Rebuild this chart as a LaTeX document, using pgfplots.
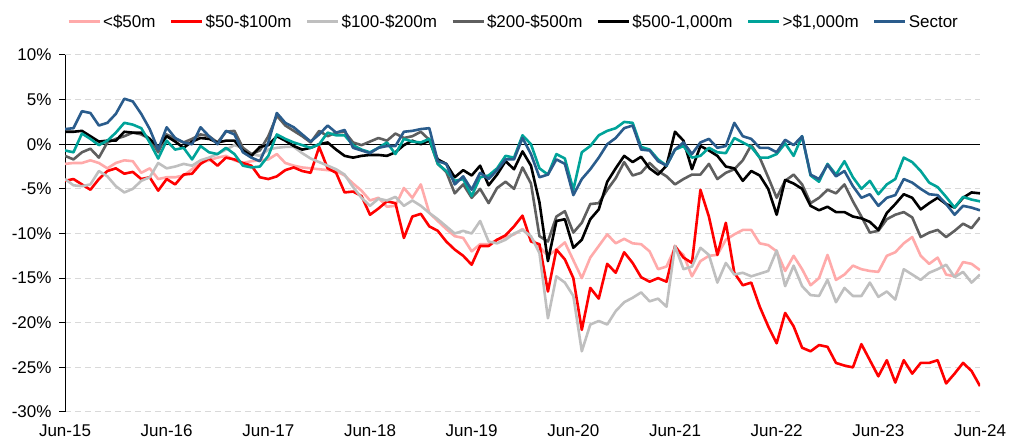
\documentclass[border=0pt]{standalone}
\usepackage{fontspec}
\setmainfont{Liberation Sans}
\usepackage{pgfplots}
\usepackage{pgfplotstable}
\pgfplotsset{compat=1.18}
\definecolor{cpink}{RGB}{255,170,170}
\definecolor{cred}{RGB}{255,0,0}
\definecolor{clgray}{RGB}{191,191,191}
\definecolor{cdgray}{RGB}{95,95,95}
\definecolor{cteal}{RGB}{0,163,153}
\definecolor{csector}{RGB}{42,92,140}
\definecolor{gridgray}{RGB}{217,217,217}

% months since Jun-15; columns: <$50m, $50-100m, $100-200m, $200-500m, $500-1,000m, >$1,000m, Sector
\pgfplotstableread{
m   lt50   r50    r100   r200   r500   gt1000 sector
0   -2.2   -4.1   -3.9   -1.3   1.4    -0.7   1.7
1   -2.1   -3.9   -4.6   -1.7   1.4    -0.9   1.8
2   -2.1   -4.5   -4.7   -0.9   1.5    1.2    3.7
3   -1.8   -5.1   -4.5   -0.5   0.9    0.6    3.5
4   -2.1   -3.9   -3.0   -1.5   0.3    -0.1   2.1
5   -2.7   -3.0   -3.6   0.2    0.4    0.4    2.4
6   -2.1   -2.7   -4.7   0.6    0.4    1.3    3.4
7   -1.8   -3.3   -5.4   0.9    1.4    2.4    5.1
8   -1.9   -3.1   -5.0   1.3    1.3    2.2    4.8
9   -3.2   -3.9   -4.1   1.1    1.3    1.8    3.4
10  -2.7   -3.7   -3.7   0.6    0.6    0.2    1.7
11  -3.9   -5.2   -2.1   -0.9   -0.3   -1.6   -0.6
12  -3.7   -3.9   -2.7   1.1    0.9    0.4    1.9
13  -3.7   -4.5   -2.5   0.6    0.3    -0.6   0.7
14  -3.5   -3.4   -2.2   0.2    -0.4   -0.4   0.2
15  -2.8   -3.3   -2.4   0.6    0.3    -1.7   0.0
16  -2.1   -2.2   -1.8   1.1    0.7    -0.2   1.9
17  -1.8   -1.6   -1.5   0.9    0.6    -0.9   0.9
18  -1.5   -2.4   -1.1   0.2    0.2    -1.1   0.0
19  -1.3   -1.5   -0.6   1.4    0.4    -0.4   1.5
20  -1.8   -1.7   -0.1   1.5    0.4    -1.1   1.1
21  -2.1   -2.1   -0.4   -0.4   -0.7   -2.4   -0.9
22  -1.9   -2.4   -1.1   -1.1   -1.3   -2.6   -1.5
23  -1.8   -3.7   -1.3   -0.7   -0.3   -2.5   -1.9
24  -1.7   -3.9   -0.6   0.9    -0.1   -1.3   0.2
25  -1.1   -3.6   -0.4   3.2    0.9    1.1    3.5
26  -2.1   -2.9   -0.3   2.1    0.4    0.6    2.4
27  -2.4   -2.6   -0.3   1.5    -0.2   0.2    1.9
28  -2.6   -3.0   -1.0   0.9    -0.6   -0.1   1.1
29  -2.7   -3.2   -1.6   0.2    -0.4   -0.4   0.3
30  -2.8   -0.3   -2.0   1.5    0.0    0.0    1.1
31  -2.9   -2.7   -2.4   0.9    0.2    1.3    2.1
32  -3.0   -3.2   -2.8   1.3    -0.6   1.0    1.3
33  -3.5   -5.4   -3.4   1.4    -1.3   1.0    1.6
34  -4.4   -5.3   -4.8   0.2    -1.5   -0.1   -0.4
35  -5.2   -5.8   -6.0   -0.1   -1.3   -0.6   -0.7
36  -6.3   -7.9   -6.9   0.3    -1.2   -0.9   -1.0
37  -6.0   -7.2   -6.1   0.7    -1.2   -0.4   -0.4
38  -7.0   -6.4   -6.3   0.4    -1.3   0.2    -0.2
39  -6.9   -6.6   -5.9   1.2    -0.9   -1.1   -0.2
40  -4.9   -10.5  -6.9   0.7    -0.1   0.6    1.4
41  -6.0   -8.1   -6.3   0.9    0.4    0.3    1.5
42  -4.5   -7.8   -6.9   1.4    0.0    0.2    1.7
43  -7.7   -9.2   -7.7   0.5    0.4    0.6    1.8
44  -8.6   -9.7   -8.4   -2.2   -1.7   -2.2   -1.9
45  -9.5   -10.9  -9.2   -3.1   -2.2   -3.0   -2.2
46  -10.3  -11.8  -10.0  -5.5   -3.7   -4.1   -4.5
47  -10.5  -12.5  -9.7   -4.5   -2.9   -3.9   -3.6
48  -12.0  -13.5  -10.0  -6.0   -3.5   -5.8   -5.1
49  -11.2  -11.4  -8.6   -5.0   -2.4   -3.7   -3.2
50  -11.2  -11.4  -10.9  -6.6   -4.6   -3.5   -3.9
51  -10.7  -10.7  -11.1  -4.9   -3.4   -2.7   -2.9
52  -10.4  -10.2  -10.7  -4.2   -1.9   -1.3   -1.7
53  -10.1  -9.2   -10.0  -5.0   -2.8   -1.5   -1.7
54  -9.5   -8.0   -9.6   -2.6   -0.8   1.0    0.7
55  -10.5  -10.9  -10.3  -4.4   -2.4   0.0    -1.1
56  -11.5  -11.2  -12.2  -10.3  -6.5   -2.7   -3.7
57  -12.5  -16.5  -19.5  -10.9  -13.1  -3.4   -3.4
58  -11.8  -11.8  -14.8  -8.1   -8.6   -1.1   -1.7
59  -11.0  -12.9  -15.5  -7.5   -8.4   -1.6   -2.2
60  -13.0  -15.0  -17.0  -9.9   -11.6  -5.1   -5.7
61  -15.0  -20.8  -23.2  -8.8   -10.7  -0.9   -3.9
62  -12.7  -16.1  -20.2  -6.7   -8.4   -0.2   -2.8
63  -11.4  -17.3  -19.8  -6.6   -7.3   1.0    -1.5
64  -10.1  -13.4  -20.2  -5.1   -4.2   1.5    0.0
65  -11.1  -14.4  -18.7  -3.8   -2.7   1.8    0.7
66  -10.6  -12.1  -17.7  -2.0   -1.3   2.5    1.8
67  -11.1  -13.3  -17.2  -3.5   -2.0   2.4    2.1
68  -11.2  -14.9  -16.6  -3.2   -1.4   -0.3   -0.6
69  -12.0  -15.4  -17.6  -2.1   -2.7   -0.6   -0.7
70  -14.0  -15.0  -17.3  -3.0   -3.4   -1.7   -1.9
71  -13.7  -15.4  -18.2  -3.6   -2.4   -2.4   -2.4
72  -11.6  -11.4  -11.4  -4.5   1.4    -0.6   -0.6
73  -12.4  -12.7  -14.0  -3.9   0.4    -0.2   0.2
74  -14.8  -13.3  -13.7  -3.4   -2.8   -1.5   -1.1
75  -13.1  -5.1   -11.6  -3.4   -0.2   -1.3   0.2
76  -12.5  -8.1   -12.4  -2.2   -0.7   -0.4   0.6
77  -12.4  -12.4  -15.5  -3.9   -1.3   -0.9   -0.4
78  -10.7  -8.8   -13.3  -3.2   -2.5   -1.0   -0.2
79  -10.1  -14.4  -14.6  -2.8   -2.7   0.7    2.4
80  -9.6   -15.8  -14.4  -1.8   -4.1   0.2    0.9
81  -9.6   -15.5  -14.8  -0.1   -3.0   -0.3   0.6
82  -11.1  -18.2  -14.5  -1.5   -3.5   -1.5   -0.4
83  -11.3  -20.4  -14.2  -3.7   -5.0   -1.5   -0.4
84  -12.0  -22.3  -11.9  -6.0   -7.9   -1.1   -0.9
85  -14.2  -18.9  -15.9  -4.1   -4.0   0.1    0.5
86  -12.5  -20.4  -13.6  -3.4   -4.4   -1.3   -0.1
87  -14.0  -22.8  -15.9  -4.5   -5.0   0.9    0.9
88  -15.8  -23.2  -16.9  -6.6   -6.9   -3.5   -3.4
89  -15.0  -22.5  -17.0  -6.0   -7.4   -4.2   -3.9
90  -12.4  -22.7  -15.2  -5.1   -7.0   -2.2   -2.3
91  -15.2  -24.5  -17.7  -5.5   -7.6   -3.4   -3.6
92  -14.6  -24.8  -16.1  -4.5   -7.6   -1.9   -3.0
93  -13.6  -25.0  -17.0  -6.4   -8.1   -3.7   -4.7
94  -14.0  -22.4  -17.0  -8.1   -8.3   -5.0   -6.0
95  -14.2  -24.2  -15.5  -9.9   -8.7   -4.1   -5.6
96  -14.3  -26.0  -17.1  -9.7   -9.6   -5.6   -6.9
97  -12.5  -24.2  -16.5  -8.4   -7.7   -4.5   -6.0
98  -12.1  -26.7  -17.4  -7.9   -6.7   -3.9   -5.7
99  -11.1  -24.2  -14.0  -7.6   -5.6   -1.5   -3.9
100 -10.4  -25.7  -14.6  -8.2   -6.0   -2.0   -4.3
101 -12.5  -24.5  -15.2  -10.4  -7.3   -3.0   -5.0
102 -13.4  -24.5  -14.4  -9.9   -6.6   -4.3   -5.6
103 -12.7  -24.2  -14.0  -9.6   -6.0   -4.8   -5.7
104 -14.6  -26.8  -13.5  -10.4  -6.7   -5.9   -6.7
105 -14.8  -25.7  -14.9  -9.7   -7.1   -7.1   -7.9
106 -13.2  -24.5  -14.3  -8.9   -6.0   -5.9   -6.9
107 -13.4  -25.4  -15.5  -9.4   -5.4   -6.2   -7.1
108 -14.1  -27.1  -14.6  -8.2   -5.5   -6.4   -7.4
}\perf

\begin{document}
\begin{tikzpicture}
\begin{axis}[
  scale only axis, width=915pt, height=357pt,
  at={(0,0)}, anchor=south west,
  xmin=0, xmax=108, ymin=-30, ymax=10,
  axis y line*=left, axis x line*=bottom,
  x axis line style={draw=none},
  y axis line style={line width=1pt},
  xtick={0,12,...,108},
  xticklabels={Jun-15,Jun-16,Jun-17,Jun-18,Jun-19,Jun-20,Jun-21,Jun-22,Jun-23,Jun-24},
  xtick style={draw=none},
  xticklabel style={yshift=-3pt},
  ytick={-30,-25,...,10},
  yticklabel={\pgfmathprintnumber{\tick}\%},
  yticklabel style={xshift=-4pt},
  tick align=outside, major tick length=6pt,
  ytick style={line width=1pt, black},
  ymajorgrids, grid style={gridgray, line width=1pt, dash pattern=on 6pt off 4pt},
  tick label style={font=\fontsize{17}{20}\selectfont},
  /pgf/number format/assume math mode=true,
  every axis plot/.append style={line width=2.6pt, line join=round},
  legend columns=7,
  legend style={draw=none, fill=none, at={(0.5,1)}, anchor=center, xshift=-9pt, yshift=33pt,
    font=\fontsize{17}{20}\selectfont,
    nodes={inner xsep=2pt},
    /tikz/every even column/.append style={column sep=12pt}},
  legend image code/.code={\draw[#1, line width=3pt] (0pt,0pt) -- (31pt,0pt);},
]
\addplot[black, line width=1pt, forget plot] coordinates {(0,0) (108,0)};
\addplot[cpink] table[x=m, y=lt50] {\perf};
\addlegendentry{<\$50m}
\addplot[cred] table[x=m, y=r50] {\perf};
\addlegendentry{\$50-\$100m}
\addplot[clgray] table[x=m, y=r100] {\perf};
\addlegendentry{\$100-\$200m}
\addplot[cdgray] table[x=m, y=r200] {\perf};
\addlegendentry{\$200-\$500m}
\addplot[black] table[x=m, y=r500] {\perf};
\addlegendentry{\$500-1,000m}
\addplot[cteal] table[x=m, y=gt1000] {\perf};
\addlegendentry{>\$1,000m}
\addplot[csector] table[x=m, y=sector] {\perf};
\addlegendentry{Sector}
\end{axis}
\pgfresetboundingbox
\path (-65pt,-31pt) rectangle (946pt,412pt);
\end{tikzpicture}
\end{document}
